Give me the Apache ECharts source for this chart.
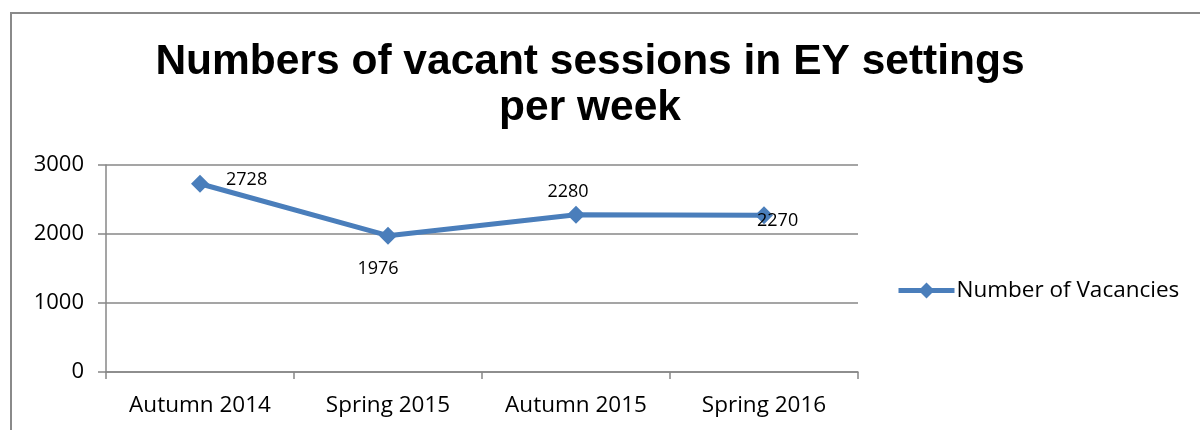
<!DOCTYPE html>
<html>
<head>
<meta charset="utf-8">
<script src="https://cdn.jsdelivr.net/npm/echarts@6/dist/echarts.min.js"></script>
<style>
  html, body { margin: 0; padding: 0; background: #fff; }
  #chart { width: 1200px; height: 430px; }
</style>
</head>
<body>
<div id="chart"></div>
<script>
const categories = ["Autumn 2014", "Spring 2015", "Autumn 2015", "Spring 2016"];
const vacancies = [2728, 1976, 2280, 2270];
const seriesName = "Number of Vacancies";
const yTicks = { min: 0, max: 3000, interval: 1000 };

const lineColor = "#4a7ebb";
const gridColor = "#878787";
const font = "Open Sans";
const diamond = "path://M0,-1L1,0L0,1L-1,0Z";

// Excel-ish placement of each data label
const labelPlacement = [
  { position: "right", distance: 17, offset: [0, -4] },
  { position: "bottom", offset: [-10, 10] },
  { position: "top", offset: [-8, 0] },
  { position: "right", offset: [-21, 6] },
];

let chart = echarts.init(document.getElementById("chart"));
const option = {
  animation: false,
  title: {
    text: "Numbers of vacant sessions in EY settings\nper week",
    left: 585,
    top: 34,
    textAlign: "center",
    textStyle: {
      fontFamily: "Liberation Sans",
      fontWeight: "bold",
      fontSize: 42.5,
      lineHeight: 46,
      color: "#000",
    },
  },
  graphic: [
    {
      type: "rect",
      shape: { x: 11, y: 13, width: 1200, height: 430 },
      style: { fill: "none", stroke: "#8a8a8a", lineWidth: 2 },
      silent: true,
    },
  ],
  legend: {
    data: [seriesName],
    left: 891,
    top: 274,
    itemWidth: 56,
    itemHeight: 20,
    itemGap: 6,
    lineStyle: { width: 5 },
    textStyle: { fontFamily: font, fontSize: 22.5, color: "#000", padding: [0, 0, 0, -3] },
  },
  grid: { left: 106, right: 342, top: 165, bottom: 58 },
  xAxis: {
    type: "category",
    data: categories,
    boundaryGap: true,
    axisLine: { lineStyle: { color: gridColor, width: 1.5 } },
    axisTick: { show: true, interval: 0, length: 7, lineStyle: { color: gridColor, width: 1.5 } },
    axisLabel: { interval: 0, fontFamily: font, fontSize: 22.5, color: "#000", margin: 22 },
  },
  yAxis: {
    type: "value",
    min: yTicks.min,
    max: yTicks.max,
    interval: yTicks.interval,
    axisLine: { show: true, lineStyle: { color: gridColor, width: 1.5 } },
    axisTick: { show: true, length: 8, lineStyle: { color: gridColor, width: 1.5 } },
    splitLine: { lineStyle: { color: gridColor, width: 1.5 } },
    axisLabel: {
      fontFamily: font,
      fontSize: 22,
      color: "#000",
      margin: 22,
      formatter: (v) => String(v),
    },
  },
  series: [
    {
      name: seriesName,
      type: "line",
      data: vacancies.map((v, i) => ({ value: v, label: labelPlacement[i] })),
      symbol: diamond,
      symbolSize: 18,
      lineStyle: { color: lineColor, width: 5 },
      itemStyle: { color: lineColor },
      label: {
        show: true,
        fontFamily: font,
        fontSize: 18,
        color: "#000",
      },
    },
  ],
};
chart.setOption(option);
</script>
</body>
</html>
